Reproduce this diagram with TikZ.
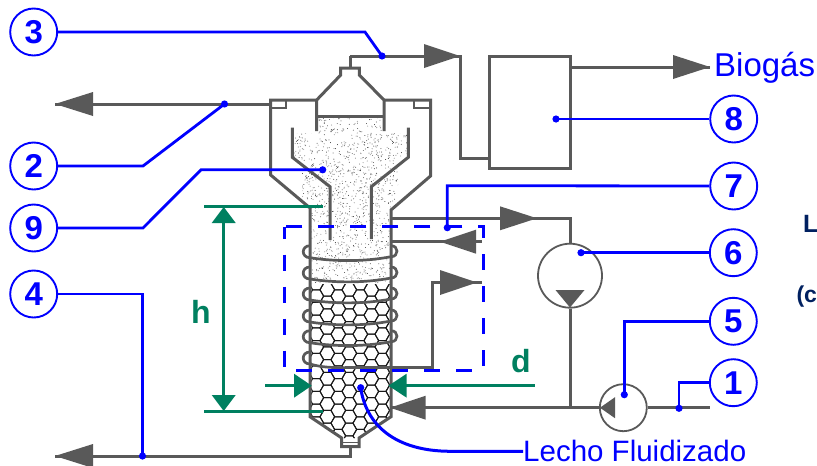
\documentclass[tikz,border=0pt]{standalone}
\usepackage{fontspec}
\setmainfont{Liberation Sans}
\definecolor{vgray}{HTML}{595959}
\definecolor{lblue}{HTML}{0000FF}
\definecolor{dgreen}{HTML}{008060}
\definecolor{navy}{HTML}{002060}
\tikzset{
  vessel/.style={draw=vgray,line width=3pt,line join=miter},
  pipe/.style={draw=vgray,line width=3pt},
  head/.style={fill=vgray,draw=none},
  ghead/.style={fill=dgreen,draw=none},
  bl/.style={draw=lblue,line width=2.8pt,line join=miter},
  gl/.style={draw=dgreen,line width=2.8pt},
  num/.style={circle,draw=lblue,line width=1.9pt,minimum size=47pt,inner sep=0pt,fill=white,text=lblue,font=\fontsize{33}{33}\selectfont\bfseries},
  bdot/.style={fill=lblue,draw=none},
  pump/.style={circle,draw=vgray,line width=1.8pt,inner sep=0pt,fill=white},
  dimtext/.style={text=dgreen,font=\fontsize{32}{32}\selectfont\bfseries,inner sep=0pt,anchor=base},
  cuttext/.style={text=navy,font=\fontsize{25}{25}\selectfont\bfseries,inner sep=0pt,anchor=base west}
}
\begin{document}
\begin{tikzpicture}[x=1pt,y=-1pt]
\useasboundingbox (0,0) rectangle (817,466);
% sand
\begin{scope}
\clip (317,117) -- (384,117) -- (384,133) -- (408,133) -- (408,160) -- (398,172) -- (398,198) -- (390,208) -- (390,283) -- (310,283) -- (310,208) -- (302,198) -- (302,172) -- (293,160) -- (293,133) -- (317,133) -- cycle;
\pgfmathsetseed{4711}
\foreach \k in {1,...,1100}{
  \pgfmathsetmacro\sx{351+59*rand}
  \pgfmathsetmacro\sy{200+84*rand}
  \fill[black!80] (\sx,\sy) circle (0.45);
}
\foreach \k in {1,...,500}{
  \pgfmathsetmacro\sx{351+59*rand}
  \pgfmathsetmacro\sy{200+84*rand}
  \fill[black!30] (\sx,\sy) circle (0.65);
}
\end{scope}
% honeycomb
\begin{scope}
\clip (310,284) -- (390,284) -- (391,417) -- (359,438) -- (342,438) -- (310,417) -- cycle;
\foreach \i in {0,...,8}{
  \foreach \j in {-1,...,13}{
    \pgfmathsetmacro\cx{316.3+11*\i}
    \pgfmathsetmacro\cy{283.4+12.7*\j+6.35*mod(\i,2)}
    \draw[line width=1pt,black!90] (\cx-7.33,\cy) -- ++(3.67,-6.35) -- ++(7.33,0) -- ++(3.67,6.35) -- ++(-3.67,6.35) -- ++(-7.33,0) -- cycle;
  }
}
\end{scope}
% vessel
\draw[vessel] (350,56) -- (350,68);
\draw[vessel] (316.7,131) -- (316.7,100) -- (340.7,75) -- (340.7,68) -- (359.3,68) -- (359.3,75) -- (384,100) -- (384,131);
\draw[vessel] (316.7,116) -- (384,116);
\draw[vessel] (316.7,100) -- (270.7,100) -- (270.7,175) -- (310,208) -- (310,416.7) -- (341.7,438) -- (341.7,446.7) -- (359,446.7) -- (359,438) -- (391,416.7) -- (391,210) -- (430.5,176) -- (430.5,100) -- (384,100);
\draw[vessel,line width=2pt] (270.7,108) -- (286,108) -- (286,100);
\draw[vessel,line width=2pt] (430.5,108) -- (414,108) -- (414,100);
\draw[vessel,line width=1.2pt] (341.7,442.5) -- (359,442.5);
\draw[vessel] (292.3,127.7) -- (292.3,157.3) -- (330,186.7) -- (330,240);
\draw[vessel] (408.3,127.7) -- (408.3,157.3) -- (371.3,186.7) -- (371.3,239);
% coil
\foreach \c in {251.7,273,294,316,336.7}{
  \draw[vessel,line width=2.7pt] (310,\c-6) .. controls (301,\c-6) and (301,\c+6) .. (310,\c+6) .. controls (335,\c+10) and (365,\c+10) .. (391,\c+5) .. controls (399,\c+5) and (399,\c-6) .. (391,\c-6);
}
\draw[vessel,line width=2.7pt] (310,352) .. controls (301,352) and (301,364) .. (310,364) .. controls (320,367) and (330,367.7) .. (345,367.7);
% pipes
\coordinate (boxin) at (489,158);
\node[draw=vgray,line width=3pt,minimum width=81pt,minimum height=112pt,inner sep=0pt,anchor=center] (box8) at (529.5,112) {};
\draw[pipe] (350,56) -- (460,56) -- (460,158) -- (boxin);
\fill[head] (460,56) -- (424,44) -- (424,68) -- cycle;
\coordinate (gasend) at (710,67);
\draw[pipe] (570,67) -- (gasend);
\fill[head] (gasend) -- (673,55) -- (673,79) -- cycle;
\coordinate (t2) at (55,104);
\draw[pipe] (270.7,104) -- (t2);
\fill[head] (t2) -- (93,92) -- (93,116) -- cycle;
\coordinate (t4) at (55,456);
\draw[pipe] (350,446.7) -- (350,456) -- (t4);
\fill[head] (t4) -- (93,444) -- (93,468) -- cycle;
% pumps
\node[pump,minimum size=64pt] (p6) at (570,275.7) {};
\node[pump,minimum size=47pt] (p5) at (623.3,407.7) {};
\draw[pipe] (391,218.3) -- (570,218.3) -- (p6.north);
\fill[head] (537,218.3) -- (500,206.3) -- (500,230.3) -- cycle;
\draw[pipe] (p6.south) -- (570,407.7);
\fill[head] (570,307.5) -- (555.5,290) -- (584.5,290) -- cycle;
\draw[pipe] (391,407.7) -- (p5.west);
\fill[head] (390,407.7) -- (425.7,395.7) -- (425.7,419.7) -- cycle;
\fill[head] (600,407.7) -- (615,397.2) -- (615,418.2) -- cycle;
\coordinate (inlet) at (710,407.7);
\draw[pipe] (p5.east) -- (inlet);
% internal circulation
\draw[pipe] (391,241.7) -- (482,241.7);
\fill[head] (440,241.7) -- (476,229.7) -- (476,253.7) -- cycle;
\draw[pipe] (345,367.7) -- (432.7,367.7) -- (432.7,282.5) -- (482,282.5);
\fill[head] (477,282.5) -- (440,270) -- (440,295) -- cycle;
% dashed box
\draw[lblue,line width=3pt,dash pattern=on 16pt off 16pt,dash phase=4pt] (284.3,226.7) rectangle (483.3,370.7);
% green dims
\coordinate (ht) at (204,206.5);
\coordinate (hb) at (204,411.5);
\draw[gl] (ht) -- (322.7,206.5);
\draw[gl] (hb) -- (323.3,411.5);
\draw[gl] (223.7,215) -- (223.7,400);
\fill[ghead] (223.7,207) -- (211.7,223) -- (235.7,223) -- cycle;
\fill[ghead] (223.7,411) -- (211.7,395) -- (235.7,395) -- cycle;
\coordinate (dl) at (265,385.7);
\coordinate (dr) at (535,385.7);
\draw[gl] (dl) -- (300,385.7);
\draw[gl] (400,385.7) -- (dr);
\fill[ghead] (311.7,385.7) -- (294,373.7) -- (294,397.7) -- cycle;
\fill[ghead] (388.5,385.7) -- (406.7,373.7) -- (406.7,397.7) -- cycle;
\node[dimtext] (h) at (201,323) {h};
\node[dimtext] (d) at (521,372) {d};
% numbered labels
\node[num] (c3) at (33.7,32) {3};
\node[num] (c2) at (33.7,166) {2};
\node[num] (c9) at (33.7,228) {9};
\node[num] (c4) at (33.7,294) {4};
\node[num] (c8) at (733.7,119) {8};
\node[num] (c7) at (733.7,186) {7};
\node[num] (c6) at (733.3,252.7) {6};
\node[num] (c5) at (733.3,321.3) {5};
\node[num] (c1) at (733.3,382.7) {1};
\coordinate (d3) at (382,56);
\coordinate (d2) at (224.5,104);
\coordinate (d9) at (322.7,169.8);
\coordinate (d4) at (142.5,456);
\coordinate (d8) at (556,119);
\coordinate (d7) at (447.3,227.7);
\coordinate (d6) at (581,252.7);
\coordinate (d5) at (624.3,394.7);
\coordinate (d1) at (679,408.3);
\coordinate (dl2) at (360.7,387.7);
\draw[bl] (c3.east) -- (365,32) -- (d3);
\draw[bl] (c2.east) -- (143,166) -- (d2);
\draw[bl] (c9.east) -- (143,228) -- (201,169.8) -- (d9);
\draw[bl] (c4.east) -- (142.5,294) -- (d4);
\draw[bl] (c8.west) -- (d8);
\draw[bl] (c7.west) -- (447.3,185.7) -- (d7);
\draw[bl] (c6.west) -- (d6);
\draw[bl] (c5.west) -- (624.3,321.3) -- (d5);
\draw[bl] (c1.west) -- (679,382.7) -- (d1);
\foreach \n in {d3,d2,d9,d4,d8,d7,d6,d5,d1,dl2}{\fill[bdot] (\n) circle (3.6);}
% texts
\node[text=lblue,font=\fontsize{33}{33}\selectfont,inner sep=0pt,anchor=base west] (biogas) at (714,76) {Biogás};
\node[text=lblue,font=\fontsize{29.5}{29.5}\selectfont,inner sep=0pt,anchor=base west] (lecho) at (523,461) {Lecho Fluidizado};
\draw[bl,line width=3pt] (dl2) .. controls (366,425) and (395,451) .. (450,451.3) -- (lecho.west |- 0,451.3);
\node[cuttext] (lab1) at (803,232) {L};
\node[cuttext,font=\fontsize{23}{23}\selectfont\bfseries] (lab2) at (796.3,302) {(c};
\end{tikzpicture}
\end{document}
